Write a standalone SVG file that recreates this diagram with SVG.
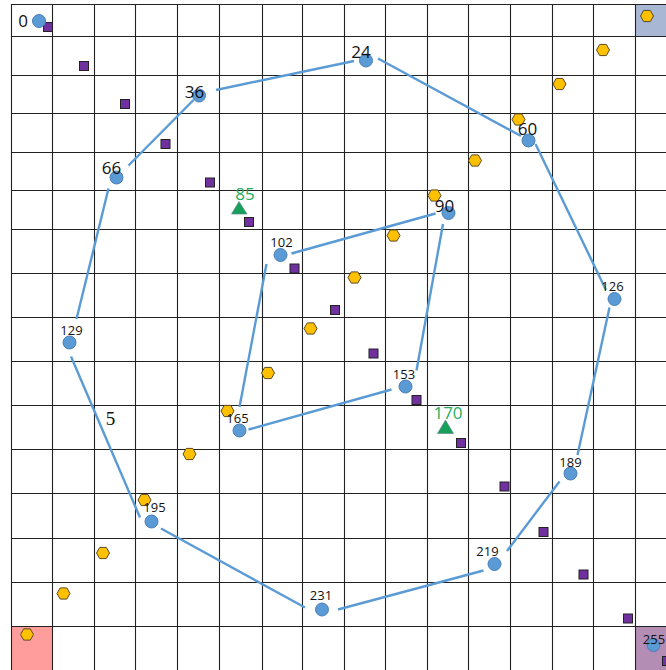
<svg xmlns="http://www.w3.org/2000/svg" width="666" height="670" viewBox="0 0 666 670">
<style>
.grid line{stroke:#222;stroke-width:1.1}
.edge{stroke:#5b9bd5;stroke-width:2.4;fill:none}
.node circle{fill:#5b9bd5;stroke:#4a7fb5;stroke-width:1}
.lg{font-family:"Open Sans","DejaVu Sans",sans-serif;font-size:17px;fill:#111;text-anchor:middle}
.sm{font-family:"Open Sans","DejaVu Sans",sans-serif;font-size:13px;fill:#111;text-anchor:middle}
.gr{font-family:"Open Sans","DejaVu Sans",sans-serif;font-size:17px;fill:#22ad5f;text-anchor:middle}
.tri{fill:#16a05a;stroke:#5a7a8a;stroke-width:0.6}
.sq{fill:#7030a0;stroke:#222;stroke-width:1}
.hex{fill:#ffc000;stroke:#5a4a20;stroke-width:1}
</style>
<defs>
<rect id="sq" x="-4.5" y="-4.5" width="9" height="9" class="sq"/>
<polygon id="hx" points="-6.5,0 -3.3,-5.6 3.3,-5.6 6.5,0 3.3,5.6 -3.3,5.6" class="hex"/>
</defs>
<rect x="0" y="0" width="666" height="670" fill="#fff"/>
<rect x="635" y="4" width="31" height="32" fill="#a8b8d4"/>
<rect x="11" y="626" width="41" height="44" fill="#ff9c9c"/>
<rect x="635" y="626" width="31" height="44" fill="#b48db5"/>
<g class="grid">
<line x1="11.5" y1="4" x2="11.5" y2="670"/>
<line x1="52.5" y1="4" x2="52.5" y2="670"/>
<line x1="94.5" y1="4" x2="94.5" y2="670"/>
<line x1="135.5" y1="4" x2="135.5" y2="670"/>
<line x1="177.5" y1="4" x2="177.5" y2="670"/>
<line x1="219.5" y1="4" x2="219.5" y2="670"/>
<line x1="262.5" y1="4" x2="262.5" y2="670"/>
<line x1="302.5" y1="4" x2="302.5" y2="670"/>
<line x1="344.5" y1="4" x2="344.5" y2="670"/>
<line x1="385.5" y1="4" x2="385.5" y2="670"/>
<line x1="427.5" y1="4" x2="427.5" y2="670"/>
<line x1="468.5" y1="4" x2="468.5" y2="670"/>
<line x1="510.5" y1="4" x2="510.5" y2="670"/>
<line x1="552.5" y1="4" x2="552.5" y2="670"/>
<line x1="593.5" y1="4" x2="593.5" y2="670"/>
<line x1="635.5" y1="4" x2="635.5" y2="670"/>
<line x1="11" y1="4.5" x2="666" y2="4.5"/>
<line x1="11" y1="36.5" x2="666" y2="36.5"/>
<line x1="11" y1="75.5" x2="666" y2="75.5"/>
<line x1="11" y1="113.5" x2="666" y2="113.5"/>
<line x1="11" y1="152.5" x2="666" y2="152.5"/>
<line x1="11" y1="190.5" x2="666" y2="190.5"/>
<line x1="11" y1="229.5" x2="666" y2="229.5"/>
<line x1="11" y1="273.5" x2="666" y2="273.5"/>
<line x1="11" y1="317.5" x2="666" y2="317.5"/>
<line x1="11" y1="361.5" x2="666" y2="361.5"/>
<line x1="11" y1="405.5" x2="666" y2="405.5"/>
<line x1="11" y1="449.5" x2="666" y2="449.5"/>
<line x1="11" y1="493.5" x2="666" y2="493.5"/>
<line x1="11" y1="538.5" x2="666" y2="538.5"/>
<line x1="11" y1="582.5" x2="666" y2="582.5"/>
<line x1="11" y1="626.5" x2="666" y2="626.5"/>
</g>
<g id="connectors">
<line class="edge" x1="216" y1="90" x2="354" y2="61"/>
<line class="edge" x1="378" y1="58.5" x2="521" y2="136"/>
<line class="edge" x1="535.5" y1="144" x2="606" y2="290"/>
<line class="edge" x1="609.5" y1="307.5" x2="577.5" y2="455"/>
<line class="edge" x1="559.5" y1="481.5" x2="507" y2="551"/>
<line class="edge" x1="483.5" y1="570.5" x2="338" y2="609.5"/>
<line class="edge" x1="305" y1="607.5" x2="161" y2="528.5"/>
<line class="edge" x1="140" y1="517.5" x2="71" y2="356.5"/>
<line class="edge" x1="76.5" y1="319" x2="108.5" y2="188.5"/>
<line class="edge" x1="128.5" y1="165.5" x2="193.5" y2="100"/>
<line class="edge" x1="435.5" y1="213.5" x2="291.5" y2="253.5"/>
<line class="edge" x1="266.5" y1="264" x2="239.5" y2="407"/>
<line class="edge" x1="248.5" y1="429.5" x2="391.5" y2="389.5"/>
<line class="edge" x1="416.5" y1="370.5" x2="443" y2="224"/>
</g>
<g id="squares">
<use href="#sq" x="48" y="27"/>
<use href="#sq" x="84" y="66"/>
<use href="#sq" x="125" y="104"/>
<use href="#sq" x="165.5" y="144"/>
<use href="#sq" x="210" y="182.5"/>
<use href="#sq" x="249" y="222"/>
<use href="#sq" x="294.5" y="268.5"/>
<use href="#sq" x="335" y="310"/>
<use href="#sq" x="373.5" y="353.5"/>
<use href="#sq" x="416.5" y="400"/>
<use href="#sq" x="461" y="443"/>
<use href="#sq" x="504.5" y="486.5"/>
<use href="#sq" x="543.5" y="532"/>
<use href="#sq" x="583.5" y="574.5"/>
<use href="#sq" x="628" y="618.5"/>
<use href="#sq" x="667" y="661"/>
</g>
<g id="hexagons">
<use href="#hx" x="647" y="16"/>
<use href="#hx" x="603" y="50"/>
<use href="#hx" x="559.5" y="84"/>
<use href="#hx" x="518.5" y="119.5"/>
<use href="#hx" x="475" y="160.5"/>
<use href="#hx" x="434.5" y="195.5"/>
<use href="#hx" x="393.5" y="235.5"/>
<use href="#hx" x="354.5" y="277.5"/>
<use href="#hx" x="310.5" y="328.5"/>
<use href="#hx" x="268" y="373"/>
<use href="#hx" x="227.5" y="411"/>
<use href="#hx" x="189.5" y="454"/>
<use href="#hx" x="144.5" y="500"/>
<use href="#hx" x="103" y="553"/>
<use href="#hx" x="63.5" y="593.5"/>
<use href="#hx" x="27" y="634.5"/>
</g>
<g id="n0" class="node"><circle cx="39" cy="21" r="6.5"/><text class="lg" x="23" y="26.5">0</text></g>
<g id="n24" class="node"><circle cx="366" cy="60.5" r="6.5"/><text class="lg" x="361" y="58">24</text></g>
<g id="n36" class="node"><circle cx="199" cy="95.5" r="6.5"/><text class="lg" x="194.5" y="97.5">36</text></g>
<g id="n60" class="node"><circle cx="528.5" cy="140.5" r="6.5"/><text class="lg" x="527.5" y="135">60</text></g>
<g id="n66" class="node"><circle cx="116.5" cy="177.5" r="6.5"/><text class="lg" x="111.5" y="174">66</text></g>
<g id="n90" class="node"><circle cx="448.5" cy="213" r="6.5"/><text class="lg" x="444.5" y="212">90</text></g>
<g id="n102" class="node"><circle cx="280.5" cy="255" r="6.5"/><text class="sm" x="281.5" y="246.5">102</text></g>
<g id="n126" class="node"><circle cx="614.5" cy="299" r="6.5"/><text class="sm" x="612.5" y="290.5">126</text></g>
<g id="n129" class="node"><circle cx="69.5" cy="342.5" r="6.5"/><text class="sm" x="71.5" y="335">129</text></g>
<g id="n153" class="node"><circle cx="405.5" cy="386.5" r="6.5"/><text class="sm" x="404" y="379">153</text></g>
<g id="n165" class="node"><circle cx="239.5" cy="430.5" r="6.5"/><text class="sm" x="237.5" y="423">165</text></g>
<g id="n189" class="node"><circle cx="570.5" cy="473.5" r="6.5"/><text class="sm" x="570.5" y="467">189</text></g>
<g id="n195" class="node"><circle cx="151.5" cy="521.5" r="6.5"/><text class="sm" x="154.5" y="511.5">195</text></g>
<g id="n219" class="node"><circle cx="494.5" cy="564" r="6.5"/><text class="sm" x="487.5" y="555.5">219</text></g>
<g id="n231" class="node"><circle cx="322" cy="609.5" r="6.5"/><text class="sm" x="321" y="600">231</text></g>
<g id="n255" class="node"><circle cx="653.5" cy="645" r="6.5"/><text class="sm" x="654" y="643.5">255</text></g>
<g id="n85"><polygon class="tri" points="239,201.5 231.5,214 247,214"/><text class="gr" x="245" y="199.5">85</text></g>
<g id="n170"><polygon class="tri" points="445.5,420 437.5,433.5 453.5,433.5"/><text class="gr" x="448" y="419">170</text></g>
<text x="110.5" y="424.5" font-family="Liberation Serif, serif" font-size="19" fill="#111" text-anchor="middle">5</text>
</svg>
